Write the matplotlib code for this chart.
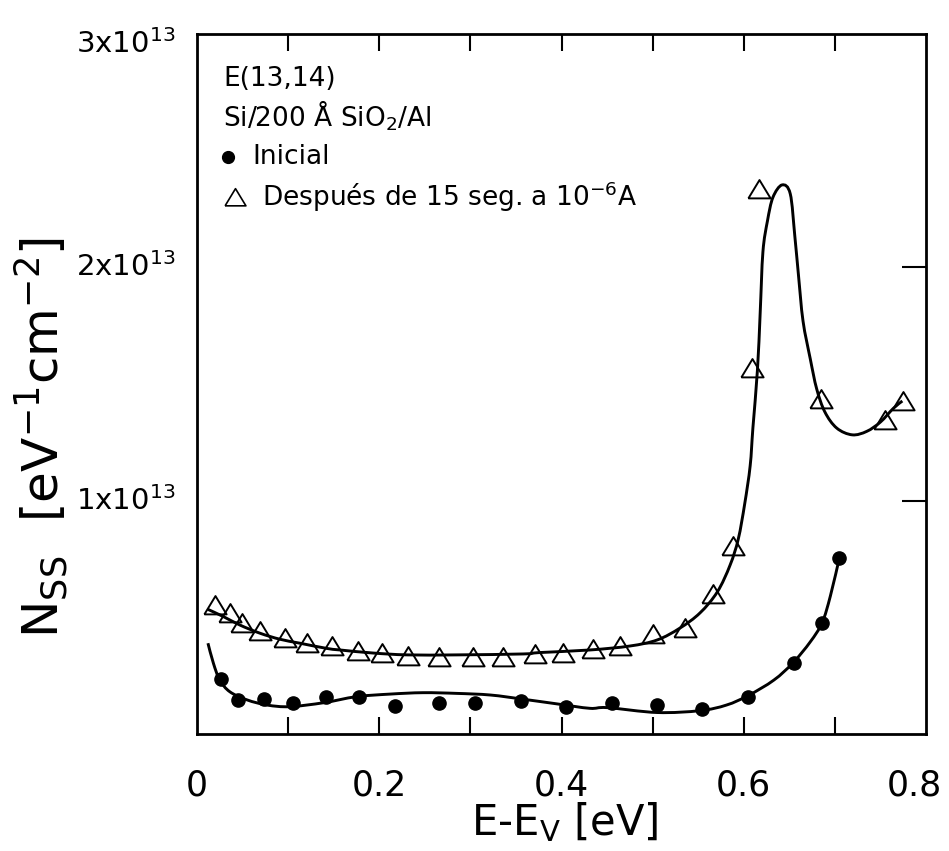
import matplotlib
matplotlib.use('Agg')
from matplotlib import pyplot as plt
from matplotlib.path import Path
from matplotlib.patches import PathPatch
from matplotlib.transforms import ScaledTranslation
import numpy as np

plt.rcParams['font.family'] = ['DejaVu Sans']
plt.rcParams['mathtext.default'] = 'regular'

# measured points (E - Ev in eV, Nss in units of 1e13)
x_ini = [0.026, 0.045, 0.074, 0.105, 0.141, 0.178, 0.217, 0.266, 0.305, 0.356,
         0.405, 0.455, 0.505, 0.554, 0.605, 0.655, 0.686, 0.705]
y_ini = [0.236, 0.146, 0.150, 0.133, 0.159, 0.159, 0.120, 0.133, 0.133, 0.141,
         0.116, 0.133, 0.124, 0.107, 0.159, 0.304, 0.476, 0.754]

x_des = [0.020, 0.036, 0.049, 0.069, 0.097, 0.121, 0.148, 0.177, 0.203, 0.231,
         0.265, 0.303, 0.336, 0.371, 0.402, 0.435, 0.464, 0.500, 0.536, 0.566,
         0.588, 0.609, 0.617, 0.685, 0.755, 0.775]
y_des = [0.553, 0.519, 0.476, 0.441, 0.411, 0.390, 0.377, 0.356, 0.347, 0.334,
         0.330, 0.330, 0.330, 0.343, 0.347, 0.364, 0.377, 0.429, 0.454, 0.600,
         0.806, 1.569, 2.336, 1.436, 1.346, 1.427]

# hand-drawn fit curves
cx_ini = [0.012, 0.018, 0.025, 0.036, 0.055, 0.077, 0.102, 0.139, 0.175, 0.212,
          0.248, 0.285, 0.322, 0.358, 0.395, 0.431, 0.450, 0.505, 0.552, 0.581,
          0.605, 0.633, 0.654, 0.673, 0.686, 0.695, 0.705]
cy_ini = [0.389, 0.303, 0.231, 0.181, 0.146, 0.124, 0.117, 0.134, 0.160, 0.171,
          0.177, 0.174, 0.167, 0.149, 0.129, 0.110, 0.113, 0.092, 0.100, 0.124,
          0.165, 0.231, 0.305, 0.395, 0.477, 0.591, 0.756]

cx_des = [0.012, 0.029, 0.047, 0.069, 0.091, 0.113, 0.142, 0.157, 0.193, 0.231,
          0.285, 0.358, 0.376, 0.431, 0.475, 0.505, 0.530, 0.552, 0.571, 0.585,
          0.594, 0.601, 0.607, 0.610, 0.615, 0.618, 0.621, 0.626, 0.632, 0.642,
          0.651, 0.656, 0.660, 0.665, 0.673, 0.680, 0.689, 0.702, 0.719, 0.735,
          0.750, 0.764, 0.774]
cy_des = [0.534, 0.503, 0.467, 0.432, 0.406, 0.389, 0.367, 0.360, 0.347, 0.339,
          0.339, 0.343, 0.349, 0.360, 0.377, 0.403, 0.454, 0.519, 0.609, 0.724,
          0.836, 0.986, 1.149, 1.311, 1.560, 1.805, 2.066, 2.199, 2.300, 2.353,
          2.315, 2.134, 1.967, 1.770, 1.607, 1.479, 1.380, 1.311, 1.282, 1.297,
          1.337, 1.395, 1.427]

ytick_vals = [1, 2, 3]
ytick_labels = [r'$1x10^{13}$', r'$2x10^{13}$', r'$3x10^{13}$']
xtick_vals = [0, 0.2, 0.4, 0.6, 0.8]
xtick_labels = ['0', '0.2', '0.4', '0.6', '0.8']

tri = [(-1, -0.8), (1, -0.8), (0, 0.85), (-1, -0.8)]


def smooth_path(xs, ys, ax):
    # catmull-rom through traced points, done in pixel space, drawn as bezier
    pts = ax.transData.transform(np.column_stack([xs, ys]))
    verts = [pts[0]]
    codes = [Path.MOVETO]
    n = len(pts)
    for i in range(n - 1):
        p0 = pts[max(i - 1, 0)]
        p1 = pts[i]
        p2 = pts[i + 1]
        p3 = pts[min(i + 2, n - 1)]
        verts += [p1 + (p2 - p0) / 6.0, p2 - (p3 - p1) / 6.0, p2]
        codes += [Path.CURVE4] * 3
    return Path(np.array(verts), codes)


fig = plt.figure(figsize=(9.49, 8.51), dpi=100)
ax = fig.add_axes([0.2076, 0.1375, 0.7682, 0.8226])
ax.set_xlim(0, 0.8)
ax.set_ylim(0, 3)

for cx, cy in [(cx_des, cy_des), (cx_ini, cy_ini)]:
    ax.add_patch(PathPatch(smooth_path(cx, cy, ax), transform=None, fc='none', ec='k', lw=2.1))

ax.plot(x_ini, y_ini, 'o', color='k', ms=9.5, ls='none')
ax.plot(x_des, y_des, marker=tri, ms=16, ls='none', mfc='none', mec='k', mew=1.4)

ax.set_xticks([0.1, 0.2, 0.3, 0.4, 0.5, 0.6, 0.7])
ax.set_xticklabels([])
ax.tick_params(axis='x', which='major', direction='in', top=True, length=12, width=1.5)
ax.set_yticks([1, 2])
ax.set_yticklabels([])
ax.tick_params(axis='y', which='major', direction='in', left=False, right=True, length=17, width=1.5)
for s in ax.spines.values():
    s.set_linewidth(2)

# tick labels drawn as text so that the unticked ends can carry labels
for xv, lab in zip(xtick_vals, xtick_labels):
    off = ScaledTranslation(-12 / 100 if xv == 0.8 else 0, 0, fig.dpi_scale_trans)
    ax.text(xv, -0.05, lab, transform=ax.get_xaxis_transform() + off,
            ha='center', va='top', fontsize=25)
for yv, lab in zip(ytick_vals, ytick_labels):
    off = ScaledTranslation(0, -10 / 100 if yv == 3 else 0, fig.dpi_scale_trans)
    ax.text(-0.03, yv, lab, transform=ax.get_yaxis_transform() + off,
            ha='right', va='center', fontsize=21)

fig.text(0.595, 0.034, r'E-E$_V$ [eV]', ha='center', va='center', fontsize=30)
fig.text(0.043, 0.486, r'$N_{SS}\ \ [eV^{-1}cm^{-2}]$', ha='center', va='center',
         rotation=90, fontsize=36)

ax.text(0.036, 0.936, 'E(13,14)', transform=ax.transAxes, fontsize=19, va='center')
ax.text(0.036, 0.883, r'Si/200 Å SiO$_2$/Al', transform=ax.transAxes, fontsize=19, va='center')
ax.plot([0.0425], [0.824], 'o', color='k', ms=8.5, transform=ax.transAxes, clip_on=False)
ax.text(0.0754, 0.824, 'Inicial', transform=ax.transAxes, fontsize=19, va='center')
ax.plot([0.052], [0.767], marker=tri, ms=15, mfc='none', mec='k', mew=1.2,
        transform=ax.transAxes, clip_on=False)
ax.text(0.089, 0.767, r'Después de 15 seg. a $10^{-6}$A', transform=ax.transAxes,
        fontsize=19, va='center')

plt.savefig('out.png', dpi=100)
